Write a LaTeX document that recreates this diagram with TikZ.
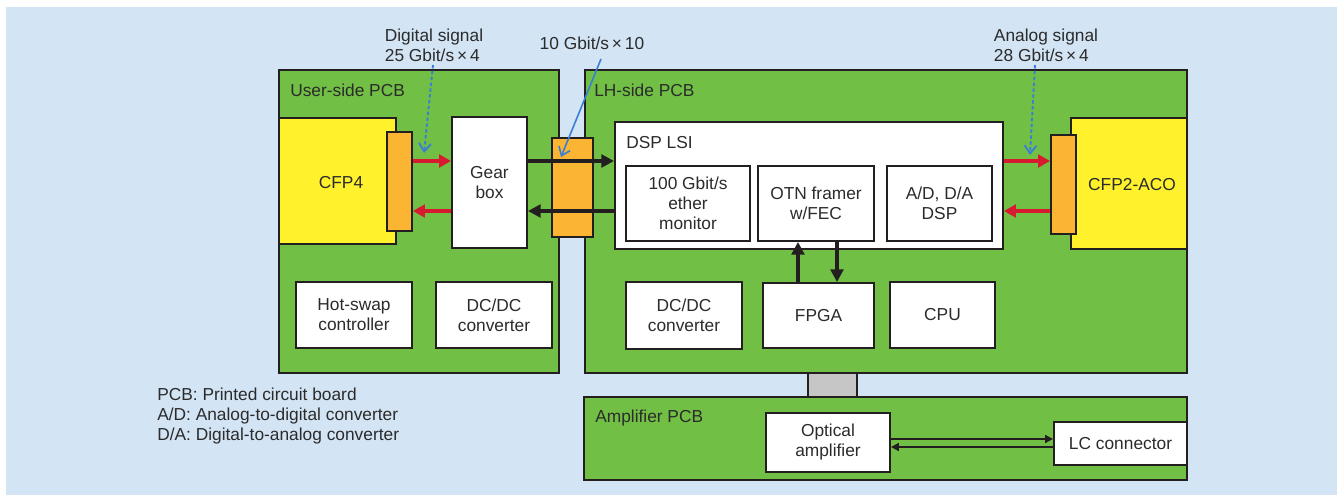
\documentclass[tikz,border=0pt]{standalone}
\usepackage{fontspec}
\setmainfont{Liberation Sans}
\usetikzlibrary{fit,arrows.meta}
\definecolor{bgblue}{HTML}{D3E4F4}
\definecolor{pcbgreen}{HTML}{71BF45}
\definecolor{cfpyellow}{HTML}{FFF22D}
\definecolor{connorange}{HTML}{FBB532}
\definecolor{sigred}{HTML}{D71A30}
\definecolor{noteblue}{HTML}{3A7FD5}
\definecolor{linec}{HTML}{231F20}
\definecolor{txt}{HTML}{2B2B2B}
\definecolor{graycon}{HTML}{C6C6C6}
\tikzset{
  base/.style={draw=linec, line width=1.4pt, inner sep=0pt},
  pcb/.style={base, fill=pcbgreen},
  wbox/.style={base, fill=white},
  ybox/.style={base, fill=cfpyellow},
  obox/.style={base, fill=connorange},
  gbox/.style={base, fill=graycon},
  lbl/.style={text=txt, inner sep=0pt, align=left},
  ctext/.style={text=txt, inner sep=0pt, align=center},
  redarr/.style={draw=sigred, line width=3.2pt, -{Triangle[length=9pt,width=9.5pt]}},
  blkarr/.style={draw=linec, line width=3.2pt, -{Triangle[length=9.5pt,width=9.5pt]}},
  thinarr/.style={draw=linec, line width=1.4pt, -{Triangle[length=6pt,width=6pt]}},
  noteline/.style={draw=noteblue, line width=1.2pt, -{Straight Barb[length=6pt,width=9pt]}},
  notedot/.style={noteline, line width=1.4pt, dash pattern=on 2.6pt off 1.8pt},
}
\begin{document}
\begin{tikzpicture}[x=0.75pt,y=-0.75pt,font=\fontsize{13}{15}\selectfont]
\useasboundingbox (0,0) rectangle (1341,495);
\fill[bgblue] (6,7) rectangle (1337,495);
% boards
\node[pcb, fit={(279,70) (559,373)}] (userpcb) {};
\node[pcb, fit={(585,70) (1187,373)}] (lhpcb) {};
\node[gbox, fit={(808,373) (857,397)}] (graycon) {};
\node[pcb, fit={(584,397) (1187,480)}] (amppcb) {};
\node[lbl, anchor=west] (userlbl) at (290,90) {User-side PCB};
\node[lbl, anchor=west] (lhlbl) at (594,90) {LH-side PCB};
\node[lbl, anchor=west] (amplbl) at (595,418) {Amplifier PCB};
% user side
\node[ybox, fit={(279,118) (396,244)}] (cfp4) {};
\node[ctext] (cfp4t) at (341,183) {CFP4};
\node[obox, fit={(387,132) (412,231)}] (cfp4c) {};
\node[wbox, fit={(452,117) (527,248)}] (gear) {};
\node[ctext] (geart) at (gear.center) {Gear\\box};
\node[wbox, fit={(296,282) (412,348)}] (hot) {};
\node[ctext] (hott) at (hot.center) {Hot-swap\\controller};
\node[wbox, fit={(436,282) (552,348)}] (dc1) {};
\node[ctext] (dc1t) at (dc1.center) {DC/DC\\converter};
\node[obox, fit={(552,138) (593,237)}] (midc) {};
% LH side
\node[wbox, fit={(615,122) (1003,249)}] (dsp) {};
\node[lbl, anchor=west] (dsplbl) at (626,143) {DSP LSI};
\node[wbox, fit={(626,166) (750,241)}] (eth) {};
\node[ctext] (etht) at (eth.center) {100 Gbit/s\\ether\\monitor};
\node[wbox, fit={(758,166) (874,241)}] (otn) {};
\node[ctext] (otnt) at (otn.center) {OTN framer\\w/FEC};
\node[wbox, fit={(887,166) (992,241)}] (ad) {};
\node[ctext] (adt) at (ad.center) {A/D, D/A\\DSP};
\node[ybox, fit={(1071,118) (1187,249)}] (cfp2) {};
\node[ctext] (cfp2t) at (1132,185) {CFP2-ACO};
\node[obox, fit={(1051,135) (1076,234)}] (cfp2c) {};
\node[wbox, fit={(626,282) (742,349)}] (dc2) {};
\node[ctext] (dc2t) at (dc2.center) {DC/DC\\converter};
\node[wbox, fit={(763,283) (874,348)}] (fpga) {};
\node[ctext] (fpgat) at (fpga.center) {FPGA};
\node[wbox, fit={(890,282) (995,348)}] (cpu) {};
\node[ctext] (cput) at (cpu.center) {CPU};
% amplifier
\node[wbox, fit={(766,413) (890,472)}] (opt) {};
\node[ctext] (optt) at (opt.center) {Optical\\amplifier};
\node[wbox, fit={(1054,422) (1187,465)}] (lc) {};
\node[ctext] (lct) at (lc.center) {LC connector};
% row coordinates
\coordinate (rowA) at (0,161);
\coordinate (rowB) at (0,211);
\coordinate (colU) at (798,0);
\coordinate (colD) at (837,0);
\coordinate (rowC) at (0,439);
\coordinate (rowD) at (0,447);
% signal arrows
\draw[redarr] (cfp4c.east |- rowA) -- (gear.west |- rowA);
\draw[redarr] (gear.west |- rowB) -- (cfp4c.east |- rowB);
\draw[blkarr] (gear.east |- rowA) -- (dsp.west |- rowA);
\draw[blkarr] (dsp.west |- rowB) -- (gear.east |- rowB);
\draw[redarr] (dsp.east |- rowA) -- (cfp2c.west |- rowA);
\draw[redarr] (cfp2c.west |- rowB) -- (dsp.east |- rowB);
\draw[blkarr] (fpga.north -| colU) -- (otn.south -| colU);
\draw[blkarr] (otn.south -| colD) -- (fpga.north -| colD);
\draw[thinarr] (opt.east |- rowC) -- (lc.west |- rowC);
\draw[thinarr] (lc.west |- rowD) -- (opt.east |- rowD);
% notes
\node[lbl] (dignote) at (434,45) {Digital signal\\25 Gbit/s\,×\,4};
\node[lbl] (tennote) at (592,43) {10 Gbit/s\,×\,10};
\node[lbl] (annote) at (1046,45) {Analog signal\\28 Gbit/s\,×\,4};
\coordinate (digS) at (433,65);
\coordinate (digE) at (424,153);
\coordinate (tenS) at (601,59);
\coordinate (tenE) at (561,157);
\coordinate (anS) at (1035,65);
\coordinate (anE) at (1030,155);
\draw[notedot] (digS) -- (digE);
\draw[noteline] (tenS) -- (tenE);
\draw[notedot] (anS) -- (anE);
% legend
\node[lbl, anchor=west] (legend) at (157,416) {PCB: Printed circuit board\\A/D: Analog-to-digital converter\\D/A: Digital-to-analog converter};
\end{tikzpicture}
\end{document}
